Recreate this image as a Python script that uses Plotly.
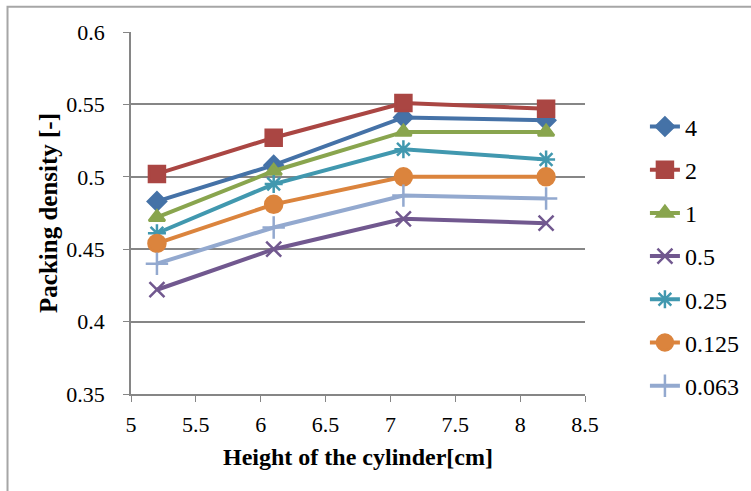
import plotly.graph_objects as go

heights = [5.2, 6.1, 7.1, 8.2]
series_names = ["4", "2", "1", "0.5", "0.25", "0.125", "0.063"]
s4 = [0.483, 0.508, 0.541, 0.539]
s2 = [0.502, 0.527, 0.551, 0.547]
s1 = [0.472, 0.504, 0.531, 0.531]
s05 = [0.422, 0.450, 0.471, 0.468]
s025 = [0.461, 0.495, 0.519, 0.512]
s0125 = [0.454, 0.481, 0.500, 0.500]
s0063 = [0.440, 0.465, 0.487, 0.485]
values = [s4, s2, s1, s05, s025, s0125, s0063]

colors = ["#4572A7", "#AA4643", "#89A54E", "#71588F", "#4198AF", "#DB843D", "#93A9CF"]
symbols = ["diamond", "square", "triangle-up", "x-thin-open", "asterisk-open", "circle", "cross-thin-open"]
sizes = [14, 16, 14, 15, 15, 17, 16]

fig = go.Figure()
for i, (name, vals) in enumerate(zip(series_names, values)):
    fig.add_trace(go.Scatter(
        x=heights, y=vals, name=name, mode="lines+markers",
        legendgroup=name,
        line=dict(color=colors[i], width=4),
        marker=dict(symbol=symbols[i], size=sizes[i], color=colors[i],
                    line=dict(color=colors[i], width=2.5)),
    ))

font_family = "Liberation Serif"
fig.update_layout(
    width=751, height=491, autosize=False,
    margin=dict(l=131, r=166, t=32, b=97, autoexpand=False),
    paper_bgcolor="white", plot_bgcolor="white",
    font=dict(family=font_family, size=22, color="black"),
    showlegend=True,
    legend=dict(x=1.132, y=0.80, xanchor="left", yanchor="top",
                font=dict(family=font_family, size=24), tracegroupgap=9,
                itemwidth=30, bgcolor="rgba(0,0,0,0)"),
    shapes=[dict(type="rect", xref="paper", yref="paper",
                 x0=-0.272, x1=1.5, y0=-0.5, y1=1.07,
                 line=dict(color="#A6A6A6", width=2))],
)
fig.update_xaxes(
    range=[5, 8.5], dtick=0.5, tick0=5,
    showgrid=False, showline=True, linecolor="#868686", linewidth=1.5,
    ticks="outside", ticklen=6, tickcolor="#868686", ticklabelstandoff=4,
    tickfont=dict(family=font_family, size=22),
    zeroline=False, automargin=False,
    title=dict(text="<b>Height of the cylinder[cm]</b>",
               font=dict(family=font_family, size=24), standoff=12),
)
fig.update_yaxes(
    range=[0.35, 0.6], dtick=0.05, tick0=0.35,
    showgrid=True, gridcolor="#868686", gridwidth=1.5,
    showline=True, linecolor="#868686", linewidth=1.5,
    ticks="outside", ticklen=6, tickcolor="#868686", ticklabelstandoff=14,
    tickfont=dict(family=font_family, size=22),
    zeroline=False, automargin=False,
    title=dict(text="<b>Packing density [-]</b>",
               font=dict(family=font_family, size=25), standoff=2),
)

fig.write_html("out.html")
